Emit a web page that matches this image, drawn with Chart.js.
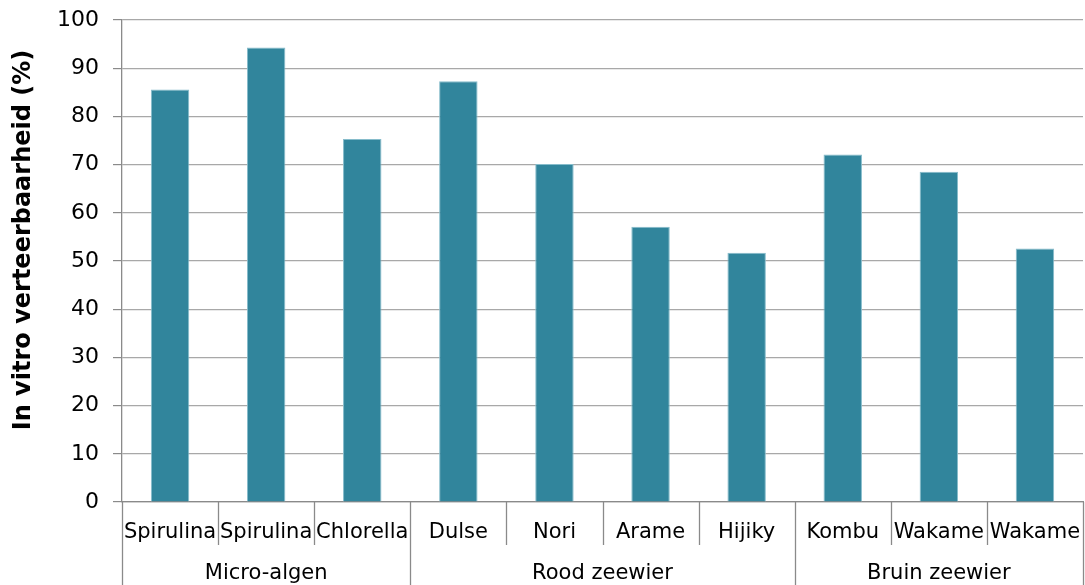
<!DOCTYPE html>
<html>
<head>
<meta charset="utf-8">
<script src="https://cdn.jsdelivr.net/npm/chart.js@4"></script>
<style>
  html, body { margin: 0; padding: 0; background: #fff; }
  #wrap { width: 1085px; height: 585px; position: relative; }
</style>
</head>
<body>
<div id="wrap"><canvas id="c" width="1085" height="585"></canvas></div>
<script>
// Soorten en hun in-vitro verteerbaarheid (%)
const categories = ['Spirulina', 'Spirulina', 'Chlorella', 'Dulse', 'Nori', 'Arame', 'Hijiky', 'Kombu', 'Wakame', 'Wakame'];
const digestibility = [85.6, 94.3, 75.3, 87.3, 70.1, 57.1, 51.7, 72.1, 68.5, 52.6];
// Groepen: naam + aantal soorten
const groupNames = ['Micro-algen', 'Rood zeewier', 'Bruin zeewier'];
const groupSizes = [3, 4, 3];
const yTicks = [0, 10, 20, 30, 40, 50, 60, 70, 80, 90, 100];
const yTitle = 'In vitro verteerbaarheid (%)';

const FONT = 'DejaVu Sans, Verdana, sans-serif';
const AXIS_GREY = '#8a8a8a';

// Tweeregelige categorie-as (soortnamen, groepsnamen, scheidingslijnen) en de y-astitel
const groupedAxis = {
  id: 'groupedAxis',
  afterDraw(chart) {
    const ctx = chart.ctx;
    const x = chart.scales.x;
    const area = chart.chartArea;
    const n = categories.length;
    const step = (x.getPixelForValue(1) - x.getPixelForValue(0));
    const edge = i => x.getPixelForValue(i) - step / 2;
    const bottom = chart.height;
    ctx.save();
    ctx.strokeStyle = AXIS_GREY;
    ctx.lineWidth = 1.3;
    const groupStarts = new Set();
    let acc = 0;
    groupSizes.forEach(s => { groupStarts.add(acc); acc += s; });
    groupStarts.add(n);
    for (let i = 0; i <= n; i++) {
      const px = Math.round(edge(i)) + 0.5;
      const yEnd = groupStarts.has(i) ? bottom : area.bottom + 43;
      ctx.beginPath();
      ctx.moveTo(px, area.bottom);
      ctx.lineTo(px, yEnd);
      ctx.stroke();
    }
    ctx.fillStyle = '#000';
    ctx.font = '21px ' + FONT;
    ctx.textAlign = 'center';
    ctx.textBaseline = 'middle';
    categories.forEach((c, i) => {
      ctx.fillText(c, x.getPixelForValue(i), area.bottom + 31);
    });
    acc = 0;
    groupNames.forEach((g, k) => {
      const left = edge(acc);
      const right = edge(acc + groupSizes[k]);
      ctx.fillText(g, (left + right) / 2, area.bottom + 72);
      acc += groupSizes[k];
    });
    // y-astitel, gedraaid
    ctx.translate(30, 240);
    ctx.rotate(-Math.PI / 2);
    ctx.font = 'bold 24px ' + FONT;
    ctx.textBaseline = 'alphabetic';
    ctx.fillText(yTitle, 0, 0);
    ctx.restore();
  }
};

new Chart(document.getElementById('c'), {
  type: 'bar',
  data: {
    labels: categories,
    datasets: [{
      data: digestibility,
      backgroundColor: '#31859c',
      borderColor: '#86bccb',
      borderWidth: 1,
      barPercentage: 0.4,
      categoryPercentage: 1.0
    }]
  },
  options: {
    responsive: false,
    animation: false,
    events: [],
    layout: { padding: { top: 20, right: 2, left: 0, bottom: 0 } },
    plugins: { legend: { display: false }, tooltip: { enabled: false } },
    scales: {
      x: {
        offset: true,
        grid: { display: false },
        border: { display: true, color: AXIS_GREY, width: 1.3 },
        ticks: { display: false },
        afterFit(scale) { scale.height = 83; scale.paddingLeft = 0; scale.paddingRight = 0; }
      },
      y: {
        min: 0,
        max: 100,
        afterBuildTicks(scale) { scale.ticks = yTicks.map(v => ({ value: v })); },
        grid: { color: '#a8a8a8', lineWidth: 1.2, tickLength: 9, tickColor: AXIS_GREY },
        border: { display: true, color: AXIS_GREY, width: 1.3 },
        ticks: { color: '#000', font: { family: FONT, size: 22 }, padding: 14 },
        afterFit(scale) { scale.width = 122; scale.paddingTop = 0; scale.paddingBottom = 0; }
      }
    }
  },
  plugins: [groupedAxis]
});
</script>
</body>
</html>
